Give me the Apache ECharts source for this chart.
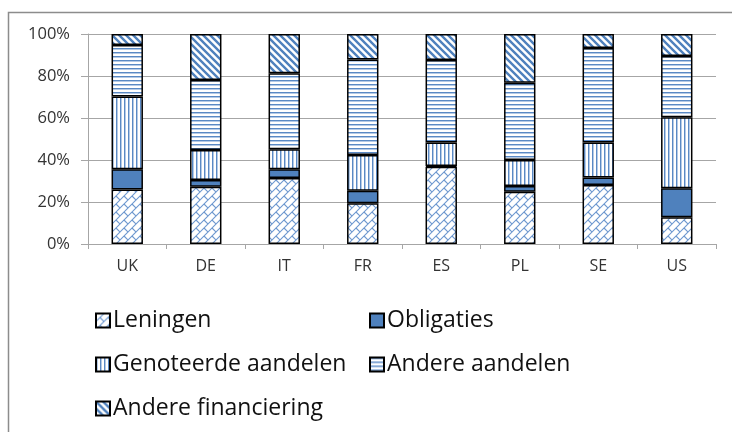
<!DOCTYPE html>
<html>
<head>
<meta charset="utf-8">
<script src="https://cdn.jsdelivr.net/npm/echarts@6/dist/echarts.min.js"></script>
<style>
html,body{margin:0;padding:0;background:#fff;}
#c{width:732px;height:432px;}
</style>
</head>
<body>
<div id="c"></div>
<script>
var categories = ['UK', 'DE', 'IT', 'FR', 'ES', 'PL', 'SE', 'US'];
var leningen = [26.0, 27.3, 31.4, 19.4, 36.8, 24.9, 28.1, 12.7];
var obligaties = [9.6, 3.2, 4.2, 6.0, 0.4, 2.7, 3.6, 13.8];
var genoteerdeAandelen = [34.6, 14.3, 9.5, 17.0, 11.1, 12.4, 16.6, 33.8];
var andereAandelen = [24.6, 33.3, 36.2, 45.5, 39.3, 36.8, 45.0, 29.2];
var andereFinanciering = [5.2, 21.9, 18.7, 12.1, 12.4, 23.2, 6.7, 10.5];
var seriesNames = ['Leningen', 'Obligaties', 'Genoteerde aandelen', 'Andere aandelen', 'Andere financiering'];
var yTicks = [0, 20, 40, 60, 80, 100];

function tile(w, h, draw) {
  var c = document.createElement('canvas');
  c.width = w; c.height = h;
  var ctx = c.getContext('2d');
  ctx.fillStyle = '#fff';
  ctx.fillRect(0, 0, w, h);
  draw(ctx, w, h);
  return { image: c, repeat: 'repeat' };
}

var brick = tile(8, 8, function (ctx) {
  ctx.strokeStyle = '#6E98CF';
  ctx.lineWidth = 1.1;
  ctx.beginPath();
  [0, 8, 16].forEach(function (k) { ctx.moveTo(-2, k + 2); ctx.lineTo(k + 2, -2); });
  ctx.moveTo(4, 4); ctx.lineTo(8.5, 8.5);
  ctx.stroke();
});
var vert = tile(4, 4, function (ctx) {
  ctx.fillStyle = '#5A89C4'; ctx.fillRect(0, 0, 1, 4);
  ctx.fillStyle = '#B4CAE6'; ctx.fillRect(1, 0, 1, 4);
});
var horiz = tile(4, 4, function (ctx) {
  ctx.fillStyle = '#5A89C4'; ctx.fillRect(0, 0, 4, 1);
  ctx.fillStyle = '#B4CAE6'; ctx.fillRect(0, 1, 4, 1);
});
var diag = tile(7, 7, function (ctx) {
  ctx.strokeStyle = '#4F81BD';
  ctx.lineWidth = 2.4;
  ctx.beginPath();
  [-7, 0, 7].forEach(function (k) { ctx.moveTo(k - 2, -2); ctx.lineTo(k + 9, 9); });
  ctx.stroke();
});

var fills = [brick, '#4F81BD', vert, horiz, diag];
var dataSets = [leningen, obligaties, genoteerdeAandelen, andereAandelen, andereFinanciering];

var series = seriesNames.map(function (n, i) {
  return {
    name: n,
    type: 'bar',
    stack: 'total',
    barWidth: '40%',
    data: dataSets[i],
    itemStyle: { color: fills[i], borderColor: '#000', borderWidth: 1.5 },
    emphasis: { disabled: true }
  };
});

var legendPos = [
  { left: 95, top: 309 },
  { left: 369, top: 309 },
  { left: 95, top: 353 },
  { left: 369, top: 353 },
  { left: 95, top: 397 }
];
var legends = seriesNames.map(function (n, i) {
  return {
    data: [n],
    left: legendPos[i].left,
    top: legendPos[i].top,
    padding: 0,
    icon: 'rect',
    itemWidth: 14,
    itemHeight: 14,
    itemGap: 0,
    selectedMode: false,
    textStyle: { fontFamily: 'Open Sans', fontSize: 23, color: '#111', padding: [0, 0, 0, -2] }
  };
});

var chart = echarts.init(document.getElementById('c'), null, { renderer: 'canvas' });
chart.setOption({
  animation: false,
  backgroundColor: '#fff',
  graphic: [{
    type: 'rect',
    shape: { x: 8.5, y: 12.5, width: 740, height: 440 },
    style: { fill: 'none', stroke: '#8c8c8c', lineWidth: 1.5 },
    silent: true
  }],
  legend: legends,
  grid: { left: 88, right: 16, top: 34, bottom: 188 },
  xAxis: {
    type: 'category',
    data: categories,
    axisLine: { lineStyle: { color: '#a6a6a6', width: 1 } },
    axisTick: { show: true, length: 5, lineStyle: { color: '#a6a6a6' } },
    axisLabel: { fontFamily: 'Open Sans', fontSize: 16, color: '#333', margin: 14 }
  },
  yAxis: {
    type: 'value',
    min: 0,
    max: 100,
    interval: 20,
    axisLine: { show: true, lineStyle: { color: '#a6a6a6' } },
    axisTick: { show: true, length: 7, lineStyle: { color: '#a6a6a6' } },
    splitLine: { lineStyle: { color: '#a6a6a6' } },
    axisLabel: {
      fontFamily: 'Open Sans', fontSize: 16.5, color: '#333', margin: 18,
      formatter: function (v) { return yTicks.indexOf(v) >= 0 ? v + '%' : ''; }
    }
  },
  series: series
});
</script>
</body>
</html>
